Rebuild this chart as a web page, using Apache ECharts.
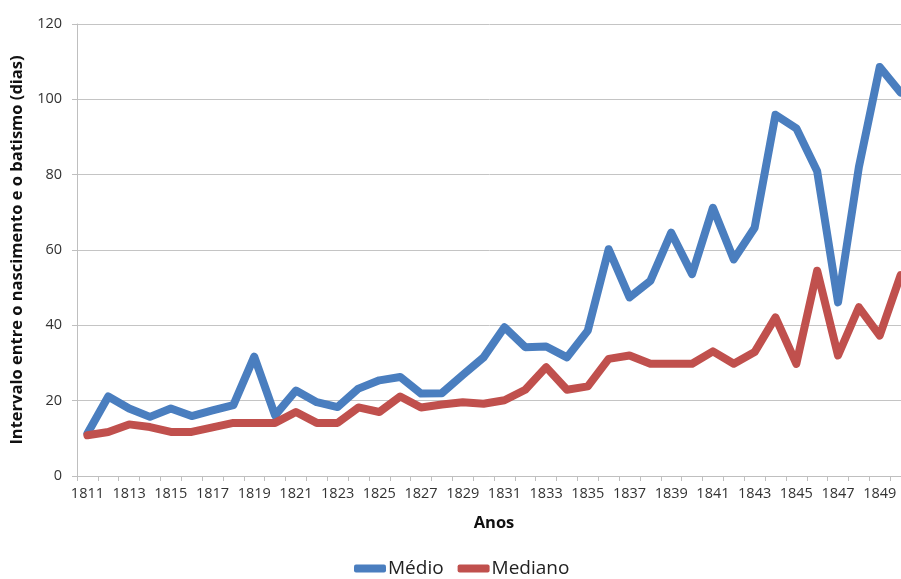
<!DOCTYPE html>
<html>
<head>
<meta charset="utf-8">
<script src="https://cdn.jsdelivr.net/npm/echarts@6/dist/echarts.min.js"></script>
<style>html,body{margin:0;padding:0;background:#fff}#c{width:901px;height:579px}</style>
</head>
<body>
<div id="c"></div>
<script>
const anos = [];
for (let y = 1811; y <= 1850; y++) anos.push(String(y));
const medio = [11.3, 21.1, 17.9, 15.7, 17.9, 15.9, 17.4, 18.8, 31.7, 16.1,
  22.7, 19.6, 18.3, 23.2, 25.4, 26.3, 21.9, 22.0, 26.8, 31.5,
  39.5, 34.2, 34.4, 31.5, 38.6, 60.2, 47.4, 51.8, 64.6, 53.6,
  71.2, 57.5, 65.9, 95.9, 92.3, 80.9, 46.1, 82.0, 108.6, 101.8];
const mediano = [10.8, 11.7, 13.7, 13.0, 11.7, 11.7, 12.9, 14.1, 14.1, 14.1,
  17.0, 14.1, 14.1, 18.2, 17.0, 21.1, 18.2, 19.0, 19.6, 19.2,
  20.1, 22.9, 28.9, 22.9, 23.8, 31.1, 32.0, 29.8, 29.8, 29.8,
  33.1, 29.8, 32.9, 42.1, 29.8, 54.5, 32.0, 44.8, 37.3, 53.3];
const yTicks = { min: 0, max: 120, interval: 20 };

const FONT = 'Open Sans';
const chart = echarts.init(document.getElementById('c'), null, { renderer: 'canvas' });
chart.setOption({
  animation: false,
  textStyle: { fontFamily: FONT },
  grid: { left: 77, right: -10, top: 24, bottom: 103, containLabel: false, outerBoundsMode: 'none' },
  legend: {
    bottom: -4,
    left: 349,
    icon: 'roundRect',
    itemWidth: 32,
    itemHeight: 8,
    itemGap: 14,
    textStyle: { fontFamily: FONT, fontSize: 19, color: '#222', padding: [0, 0, 0, -3] },
    data: ['Médio', 'Mediano']
  },
  xAxis: {
    type: 'category',
    data: anos,
    boundaryGap: true,
    name: 'Anos',
    nameLocation: 'middle',
    nameGap: 39,
    nameTextStyle: { fontFamily: FONT, fontWeight: 'bold', fontSize: 16.5, color: '#111' },
    axisLine: { lineStyle: { color: '#bfbfbf', width: 1 } },
    axisTick: { show: true, interval: 0, length: 5, alignWithLabel: false, lineStyle: { color: '#bfbfbf' } },
    axisLabel: { interval: 1, fontSize: 14.5, color: '#333', margin: 10, fontFamily: FONT },
    splitLine: { show: false }
  },
  yAxis: {
    type: 'value',
    min: yTicks.min, max: yTicks.max, interval: yTicks.interval,
    name: 'Intervalo entre o nascimento e o batismo (dias)',
    nameLocation: 'middle',
    nameGap: 51,
    nameTextStyle: { fontFamily: FONT, fontWeight: 'bold', fontSize: 16.5, color: '#111' },
    axisLine: { show: true, lineStyle: { color: '#bfbfbf', width: 1 } },
    axisTick: { show: true, length: 5, lineStyle: { color: '#bfbfbf' } },
    axisLabel: { fontSize: 14.5, color: '#333', margin: 15, fontFamily: FONT },
    splitLine: { show: true, lineStyle: { color: '#c4c4c4', width: 1 } }
  },
  series: [
    {
      name: 'Médio', type: 'line', data: medio, symbol: 'none', showSymbol: false,
      lineStyle: { color: '#4a7ebf', width: 8, join: 'round', cap: 'round' },
      itemStyle: { color: '#4a7ebf' }
    },
    {
      name: 'Mediano', type: 'line', data: mediano, symbol: 'none', showSymbol: false,
      lineStyle: { color: '#c0504d', width: 8, join: 'round', cap: 'round' },
      itemStyle: { color: '#c0504d' }
    }
  ]
});
</script>
</body>
</html>
